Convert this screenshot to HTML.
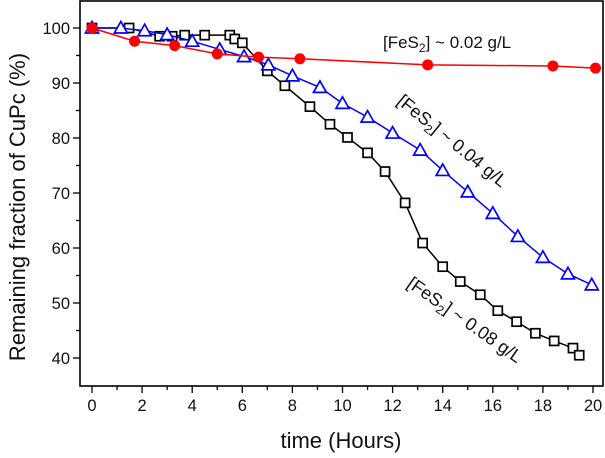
<!DOCTYPE html>
<html><head><meta charset="utf-8"><style>
html,body{margin:0;padding:0;background:#fff;}
svg{display:block;font-family:"Liberation Sans",Arial,sans-serif;}
</style></head><body>
<svg id="chart" width="605" height="458" viewBox="0 0 605 458" xmlns="http://www.w3.org/2000/svg"></svg>
<script>
const xTicks=[0,2,4,6,8,10,12,14,16,18,20];
const yTicks=[40,50,60,70,80,90,100];
const blackX=[0,1.48,2.7,3.2,3.7,4.5,5.5,5.7,6.0,7.0,7.7,8.7,9.5,10.2,11.0,11.7,12.5,13.2,14.0,14.7,15.5,16.2,16.95,17.7,18.45,19.2,19.45];
const blackY=[100,100,98.5,98.5,98.7,98.7,98.7,98,97.3,92.2,89.5,85.7,82.5,80.1,77.3,73.9,68.2,60.9,56.6,53.9,51.5,48.6,46.6,44.5,43.1,41.8,40.5];
const blueX=[0,1.15,2.1,3.0,4.0,5.1,6.07,7.04,8.0,9.1,10.0,11.0,12.0,13.1,14.0,15.0,16.0,17.0,18.0,19.0,19.95];
const blueY=[100,100,99.5,98.8,97.6,96.1,94.8,93.3,91.3,89.2,86.3,83.8,80.9,77.8,74.1,70.2,66.3,62.1,58.3,55.3,53.3];
const redX=[0,1.7,3.3,5.0,6.65,8.3,13.4,18.4,20.1];
const redY=[100,97.6,96.8,95.3,94.7,94.4,93.3,93.1,92.7];

const X0=80,X1=603,Y0=1,Y1=386;
const xs=v=>92+v*25.05;
const ys=v=>28+(100-v)*5.5;
const NS="http://www.w3.org/2000/svg";
const svg=document.getElementById('chart');
function mk(tag,attrs,parent){const e=document.createElementNS(NS,tag);for(const k in attrs)e.setAttribute(k,attrs[k]);(parent||svg).appendChild(e);return e;}

const frame=mk('rect',{x:X0,y:Y0,width:X1-X0,height:Y1-Y0,fill:'none',stroke:'#000','stroke-width':1.6});



const xg=mk('g',{});


for(let v=0;v<=20;v++){
  const major=v%2===0;
  mk('line',{x1:xs(v),x2:xs(v),y1:Y1,y2:Y1+(major?7:4),stroke:'#000','stroke-width':1.3},xg);
}
xTicks.forEach(v=>{
  const t=mk('text',{x:xs(v),y:Y1+25,'font-size':16.5,'text-anchor':'middle',fill:'#111'},xg);
  t.textContent=v;
  
  
});
const yg=mk('g',{});


for(let v=40;v<=100;v+=5){
  const major=v%10===0;
  mk('line',{x1:X0,x2:X0-(major?7:4),y1:ys(v),y2:ys(v),stroke:'#000','stroke-width':1.3},yg);
}
yTicks.forEach(v=>{
  const t=mk('text',{x:X0-10,y:ys(v)+6,'font-size':16.5,'text-anchor':'end',fill:'#111'},yg);
  t.textContent=v;
  
  
});
const xt=mk('text',{x:341,y:448,'font-size':22,'text-anchor':'middle',fill:'#111'});
xt.textContent='time (Hours)';


const yt=mk('text',{x:0,y:0,'font-size':22,'text-anchor':'middle',fill:'#111',transform:'translate(25,207) rotate(-90)'});
yt.textContent='Remaining fraction of CuPc (%)';



function series(xa,ya,color,name,marker){
  const g=mk('g',{});
  
  
  mk('polyline',{points:xa.map((x,i)=>xs(x)+','+ys(ya[i])).join(' '),fill:'none',stroke:color,'stroke-width':1.5},g);
  xa.forEach((x,i)=>{
    const cx=xs(x),cy=ys(ya[i]);let m;
    if(marker==='square') m=mk('rect',{x:cx-4.5,y:cy-4.5,width:9,height:9,fill:'#fff',stroke:color,'stroke-width':1.7},g);
    else if(marker==='tri') m=mk('polygon',{points:`${cx},${cy-6.5} ${cx-6.5},${cy+5} ${cx+6.5},${cy+5}`,fill:'#fff',stroke:color,'stroke-width':1.7},g);
    else m=mk('circle',{cx:cx,cy:cy,r:5.5,fill:color},g);
    
    
  });
}
series(blackX,blackY,'#000','series-0.08','square');
series(blueX,blueY,'#0000ff','series-0.04','tri');
series(redX,redY,'#ff0000','series-0.02','circle');

function label(x,y,rot,conc,name,fs){
  const t=mk('text',{x:0,y:0,'font-size':fs,fill:'#111',transform:`translate(${x},${y}) rotate(${rot})`});
  t.innerHTML='[FeS<tspan dy="4" font-size="12">2</tspan><tspan dy="-4">] ~ '+conc+' g/L</tspan>';
  
  
}
label(383,48,0,'0.02','label-0.02',17);
label(396,103,39,'0.04','label-0.04',18);
label(406,286,35,'0.08','label-0.08',18);
</script>
</body></html>
